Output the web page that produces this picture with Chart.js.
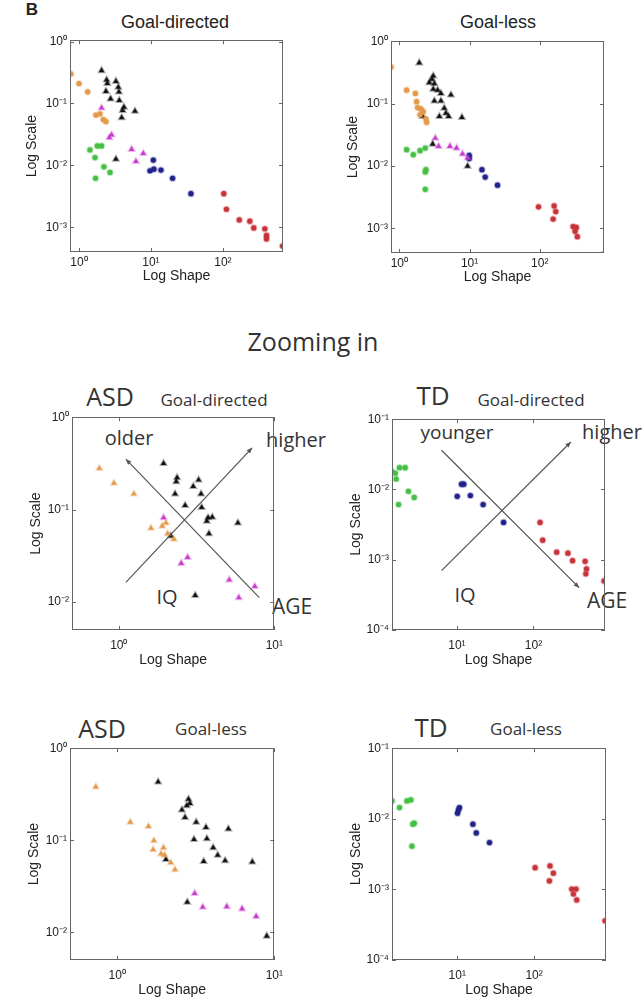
<!DOCTYPE html>
<html>
<head>
<meta charset="utf-8">
<script src="https://cdn.jsdelivr.net/npm/chart.js@4.4.0/dist/chart.umd.min.js"></script>
<style>
body{margin:0;background:#fff;width:643px;height:1003px;position:relative;overflow:hidden}
canvas{position:absolute}
.t{position:absolute;transform:translate(-50%,-50%);white-space:nowrap;line-height:1}
.ax{font-family:'Liberation Sans',Arial,sans-serif;color:#222}
.os{font-family:'Open Sans',sans-serif;color:#333}
</style>
</head>
<body>
<div class="t ax" style="left:32px;top:9px;font-weight:bold;font-size:17px">B</div>
<div class="t ax" style="left:175px;top:22px;font-size:18px">Goal-directed</div>
<div class="t ax" style="left:498px;top:22px;font-size:18px">Goal-less</div>
<div class="t os" style="left:313px;top:341px;font-size:25px">Zooming in</div>
<div class="t os" style="left:110px;top:396px;font-size:25px">ASD</div>
<div class="t os" style="left:214px;top:399px;font-size:17px">Goal-directed</div>
<div class="t os" style="left:433px;top:395px;font-size:26px">TD</div>
<div class="t os" style="left:531px;top:399px;font-size:17px">Goal-directed</div>
<div class="t os" style="left:102px;top:728px;font-size:25px">ASD</div>
<div class="t os" style="left:211px;top:728px;font-size:17px">Goal-less</div>
<div class="t os" style="left:431px;top:727px;font-size:26px">TD</div>
<div class="t os" style="left:526px;top:728px;font-size:17px">Goal-less</div>
<div class="t os" style="left:129px;top:438px;font-size:20px">older</div>
<div class="t os" style="left:296px;top:440px;font-size:20px">higher</div>
<div class="t os" style="left:167px;top:597px;font-size:20px">IQ</div>
<div class="t os" style="left:292px;top:606px;font-size:21px">AGE</div>
<div class="t os" style="left:457px;top:432px;font-size:19px">younger</div>
<div class="t os" style="left:612px;top:432px;font-size:20px">higher</div>
<div class="t os" style="left:465px;top:595px;font-size:20px">IQ</div>
<div class="t os" style="left:607px;top:600px;font-size:21px">AGE</div>
<script>
// tick values and labels
const xTicksWide = [1, 10, 100];
const xLabelsWide = ['10⁰', '10¹', '10²'];
const yTicksWide = [1, 0.1, 0.01, 0.001];
const yLabelsWide = ['10⁰', '10⁻¹', '10⁻²', '10⁻³'];
const xTicksAsd = [1, 10];
const xLabelsAsd = ['10⁰', '10¹'];
const yTicksAsd = [1, 0.1, 0.01];
const yLabelsAsd = ['10⁰', '10⁻¹', '10⁻²'];
const xTicksTd = [10, 100];
const xLabelsTd = ['10¹', '10²'];
const yTicksTd = [0.1, 0.01, 0.001, 0.0001];
const yLabelsTd = ['10⁻¹', '10⁻²', '10⁻³', '10⁻⁴'];

// axis limits
const xRangeGd = [0.75, 685], yRangeGd = [0.0004, 1.05];
const xRangeGl = [0.76, 822], yRangeGl = [0.0004, 1];
const xRangeAsd = [0.5, 10], yRangeAsd = [0.005, 1];
const xRangeTd = [1.42, 860], yRangeTd = [0.0001, 0.1];

// all subjects, goal-directed  [shape, scale]
const gdOrange = [[0.77,0.30],[1.0,0.21],[1.32,0.154],[1.72,0.065],[1.96,0.068],[2.18,0.055],[2.37,0.051]];
const gdBlack = [[2.06,0.34],[2.42,0.24],[2.48,0.21],[2.37,0.157],[3.26,0.228],[3.52,0.183],[3.59,0.154],[2.75,0.119],[3.63,0.112],[4.22,0.087],[4.04,0.077],[3.92,0.059],[6.0,0.075],[3.26,0.0126]];
const gdMagenta = [[2.06,0.085],[2.84,0.031],[2.64,0.028],[5.39,0.0182],[7.83,0.0156],[6.19,0.0116]];
const gdGreen = [[1.42,0.0178],[1.80,0.0206],[2.06,0.0206],[1.67,0.0134],[2.22,0.0095],[2.70,0.0077],[1.70,0.0062]];
const gdBlue = [[10.8,0.0122],[11.0,0.0087],[9.7,0.0082],[13.8,0.0084],[20,0.0062],[36,0.0035]];
const gdRed = [[103,0.0035],[112,0.00196],[169,0.00132],[237,0.00126],[269,0.00098],[383,0.00095],[404,0.00074],[404,0.00065],[674,0.0005]];

// all subjects, goal-less
const glOrange = [[0.76,0.385],[1.27,0.164],[1.69,0.145],[1.76,0.107],[1.82,0.086],[2.03,0.082],[2.19,0.074],[1.97,0.066],[2.39,0.057],[2.45,0.050]];
const glBlack = [[1.92,0.45],[3.04,0.277],[2.91,0.245],[2.67,0.217],[3.15,0.209],[3.04,0.170],[3.51,0.164],[3.91,0.145],[5.43,0.137],[3.15,0.110],[3.91,0.110],[4.36,0.084],[4.61,0.070],[3.71,0.062],[5.03,0.062],[7.78,0.060],[2.15,0.062],[2.98,0.0224],[9.37,0.0099]];
const glMagenta = [[3.25,0.0279],[3.62,0.0206],[5.25,0.0206],[6.53,0.0193],[7.94,0.0155],[9.37,0.0134]];
const glGreen = [[1.27,0.0182],[1.58,0.0151],[1.97,0.0175],[2.34,0.0193],[2.39,0.0087],[2.34,0.0080],[2.34,0.0042]];
const glBlue = [[9.89,0.0148],[9.89,0.0131],[15.0,0.0087],[16.7,0.0066],[25.0,0.0049]];
const glRed = [[96,0.0022],[160,0.00228],[169,0.00185],[155,0.0014],[298,0.00106],[332,0.00103],[318,0.00089],[343,0.00073],[800,0.00038]];

// ASD goal-directed
const asdGdOrange = [[0.75,0.28],[0.93,0.193],[1.25,0.148],[1.61,0.063],[1.90,0.0665],[2.01,0.072],[2.06,0.055],[2.26,0.048]];
const asdGdBlack = [[1.94,0.317],[2.37,0.222],[2.34,0.201],[3.01,0.178],[3.26,0.21],[2.30,0.148],[3.38,0.148],[2.67,0.111],[3.41,0.106],[3.68,0.075],[3.75,0.082],[3.99,0.083],[5.83,0.072],[3.80,0.055],[2.16,0.052],[3.10,0.0118]];
const asdGdMagenta = [[1.94,0.082],[2.77,0.0305],[2.52,0.0263],[5.13,0.0174],[7.49,0.0148],[5.91,0.0112]];
const asdGdAgeArrow = [[8.0,0.0112],[1.11,0.352]];
const asdGdIqArrow = [[1.11,0.0164],[7.2,0.466]];

// TD goal-directed
const tdGdGreen = [[1.42,0.0179],[1.78,0.0204],[2.11,0.0204],[1.57,0.017],[1.61,0.0141],[2.33,0.0094],[2.77,0.0077],[1.73,0.0061]];
const tdGdBlue = [[11.5,0.0119],[12.3,0.0119],[10.1,0.0080],[15.0,0.0082],[22.0,0.0061],[40.7,0.0034]];
const tdGdRed = [[122,0.0034],[132,0.0019],[201,0.00128],[282,0.00124],[324,0.00097],[473,0.00095],[493,0.00074],[483,0.00063],[836,0.0005]];
const tdGdAgeArrow = [[6.3,0.0362],[395,0.0004]];
const tdGdIqArrow = [[6.3,0.0007],[308,0.0474]];

// ASD goal-less
const asdGlOrange = [[0.73,0.38],[1.21,0.157],[1.58,0.141],[1.71,0.099],[1.69,0.079],[1.97,0.083],[1.90,0.071],[2.0,0.069],[2.19,0.057],[2.33,0.048]];
const asdGlBlack = [[1.82,0.43],[2.84,0.28],[2.90,0.252],[2.77,0.238],[2.58,0.214],[2.70,0.177],[3.18,0.157],[3.67,0.138],[5.10,0.133],[3.08,0.102],[3.72,0.104],[4.08,0.083],[4.36,0.069],[3.55,0.059],[4.86,0.060],[7.24,0.058],[2.04,0.062],[2.79,0.0212],[8.95,0.0091]];
const asdGlMagenta = [[3.11,0.0265],[3.50,0.0187],[4.98,0.019],[6.23,0.018],[7.66,0.0149]];

// TD goal-less
const tdGlGreen = [[1.42,0.0179],[1.78,0.0144],[2.22,0.0179],[2.50,0.0185],[2.65,0.0084],[2.77,0.0087],[2.58,0.0041]];
const tdGlBlue = [[10.4,0.0134],[10.7,0.0144],[10.1,0.012],[16.0,0.0084],[17.7,0.0063],[26.3,0.0046]];
const tdGlRed = [[103,0.00203],[161,0.00215],[178,0.0017],[158,0.00132],[308,0.00101],[351,0.00101],[324,0.00086],[358,0.00071],[836,0.00036]];

const colors = {
  orange: '#e39a4a', black: '#111111', magenta: '#c83cd0',
  green: '#44c044', blue: '#22228a', red: '#c8343c'
};

function pts(arr) { return arr.map(p => ({x: p[0], y: p[1]})); }

function group(arr, color, tri) {
  return {
    data: pts(arr),
    pointStyle: tri ? 'triangle' : 'circle',
    pointRadius: tri ? 3.2 : 2.6,
    backgroundColor: color,
    borderColor: color + '55',
    borderWidth: 2
  };
}

// frame, inward ticks and the annotation arrows
const boxPlugin = {
  id: 'box',
  afterDraw(chart, args, opts) {
    const {ctx, chartArea: a, scales: {x, y}} = chart;
    ctx.save();
    ctx.strokeStyle = '#666';
    ctx.lineWidth = 1;
    ctx.beginPath();
    x.ticks.forEach(t => {
      const px = Math.round(x.getPixelForValue(t.value)) + 0.5;
      ctx.moveTo(px, a.bottom); ctx.lineTo(px, a.bottom - 4);
      ctx.moveTo(px, a.top); ctx.lineTo(px, a.top + 4);
    });
    y.ticks.forEach(t => {
      const py = Math.round(y.getPixelForValue(t.value)) + 0.5;
      ctx.moveTo(a.left, py); ctx.lineTo(a.left + 4, py);
      ctx.moveTo(a.right, py); ctx.lineTo(a.right - 4, py);
    });
    ctx.stroke();
    ctx.strokeRect(Math.round(a.left) + 0.5, Math.round(a.top) + 0.5, Math.round(a.width) - 1, Math.round(a.height) - 1);
    (opts.arrows || []).forEach(arr => {
      const x0 = x.getPixelForValue(arr[0][0]), y0 = y.getPixelForValue(arr[0][1]);
      const x1 = x.getPixelForValue(arr[1][0]), y1 = y.getPixelForValue(arr[1][1]);
      ctx.strokeStyle = '#555';
      ctx.lineWidth = 1.2;
      ctx.beginPath(); ctx.moveTo(x0, y0); ctx.lineTo(x1, y1); ctx.stroke();
      const ang = Math.atan2(y1 - y0, x1 - x0);
      ctx.fillStyle = '#555';
      ctx.beginPath();
      ctx.moveTo(x1, y1);
      ctx.lineTo(x1 - 6 * Math.cos(ang - 0.4), y1 - 6 * Math.sin(ang - 0.4));
      ctx.lineTo(x1 - 6 * Math.cos(ang + 0.4), y1 - 6 * Math.sin(ang + 0.4));
      ctx.closePath(); ctx.fill();
    });
    ctx.restore();
  }
};

function panel(box, cfg) {
  const padTop = 8, padRight = 8, yW = 50, xH = 44;
  const cv = document.createElement('canvas');
  cv.width = yW + box.w + padRight;
  cv.height = padTop + box.h + xH;
  cv.style.left = (box.x - yW) + 'px';
  cv.style.top = (box.y - padTop) + 'px';
  document.body.appendChild(cv);
  const tickFont = {family: "'Liberation Sans', Arial, sans-serif", size: 12};
  const titleFont = {family: "'Liberation Sans', Arial, sans-serif", size: 14};
  new Chart(cv, {
    type: 'scatter',
    data: {datasets: cfg.sets},
    plugins: [boxPlugin],
    options: {
      responsive: false,
      animation: false,
      layout: {padding: {top: padTop, right: padRight, left: 0, bottom: 0}},
      plugins: {legend: {display: false}, tooltip: {enabled: false}, box: {arrows: cfg.arrows || []}},
      scales: {
        x: {
          type: 'logarithmic', min: cfg.xr[0], max: cfg.xr[1],
          afterBuildTicks: s => { s.ticks = cfg.xt.map(v => ({value: v})); },
          afterFit: s => { s.height = xH; },
          grid: {display: false, drawTicks: false},
          border: {display: false},
          ticks: {callback: (v, i) => cfg.xl[i], font: tickFont, color: '#222', padding: cfg.xPad, maxRotation: 0, autoSkip: false},
          title: {display: true, text: 'Log Shape', font: titleFont, color: '#222', padding: {top: 0, bottom: cfg.xTitlePad}}
        },
        y: {
          type: 'logarithmic', min: cfg.yr[0], max: cfg.yr[1],
          afterBuildTicks: s => { s.ticks = cfg.yt.map(v => ({value: v})); },
          afterFit: s => { s.width = yW; },
          grid: {display: false, drawTicks: false},
          border: {display: false},
          ticks: {callback: (v, i) => cfg.yl[i], font: tickFont, color: '#222', padding: 3, autoSkip: false},
          title: {display: true, text: 'Log Scale', font: titleFont, color: '#222', padding: {top: cfg.yTitlePad, bottom: 0}}
        }
      }
    }
  });
}

panel({x: 70, y: 38, w: 213, h: 214}, {
  xr: xRangeGd, yr: yRangeGd, xt: xTicksWide, xl: xLabelsWide, yt: yTicksWide, yl: yLabelsWide,
  xPad: 3, xTitlePad: 11, yTitlePad: 4,
  sets: [group(gdOrange, colors.orange, false), group(gdMagenta, colors.magenta, true), group(gdBlack, colors.black, true),
         group(gdGreen, colors.green, false), group(gdBlue, colors.blue, false), group(gdRed, colors.red, false)]
});
panel({x: 391, y: 39, w: 213, h: 214}, {
  xr: xRangeGl, yr: yRangeGl, xt: xTicksWide, xl: xLabelsWide, yt: yTicksWide, yl: yLabelsWide,
  xPad: 3, xTitlePad: 11, yTitlePad: 4,
  sets: [group(glOrange, colors.orange, false), group(glMagenta, colors.magenta, true), group(glBlack, colors.black, true),
         group(glGreen, colors.green, false), group(glBlue, colors.blue, false), group(glRed, colors.red, false)]
});
panel({x: 72, y: 415, w: 211, h: 215}, {
  xr: xRangeAsd, yr: yRangeAsd, xt: xTicksAsd, xl: xLabelsAsd, yt: yTicksAsd, yl: yLabelsAsd,
  xPad: 8, xTitlePad: 5, yTitlePad: 6,
  arrows: [asdGdAgeArrow, asdGdIqArrow],
  sets: [group(asdGdOrange, colors.orange, true), group(asdGdMagenta, colors.magenta, true), group(asdGdBlack, colors.black, true)]
});
panel({x: 392, y: 417, w: 213, h: 213}, {
  xr: xRangeTd, yr: yRangeTd, xt: xTicksTd, xl: xLabelsTd, yt: yTicksTd, yl: yLabelsTd,
  xPad: 8, xTitlePad: 5, yTitlePad: 6,
  arrows: [tdGdAgeArrow, tdGdIqArrow],
  sets: [group(tdGdGreen, colors.green, false), group(tdGdBlue, colors.blue, false), group(tdGdRed, colors.red, false)]
});
panel({x: 70, y: 746, w: 213, h: 214}, {
  xr: xRangeAsd, yr: yRangeAsd, xt: xTicksAsd, xl: xLabelsAsd, yt: yTicksAsd, yl: yLabelsAsd,
  xPad: 8, xTitlePad: 5, yTitlePad: 6,
  sets: [group(asdGlOrange, colors.orange, true), group(asdGlMagenta, colors.magenta, true), group(asdGlBlack, colors.black, true)]
});
panel({x: 392, y: 746, w: 214, h: 214}, {
  xr: xRangeTd, yr: yRangeTd, xt: xTicksTd, xl: xLabelsTd, yt: yTicksTd, yl: yLabelsTd,
  xPad: 8, xTitlePad: 5, yTitlePad: 6,
  sets: [group(tdGlGreen, colors.green, false), group(tdGlBlue, colors.blue, false), group(tdGlRed, colors.red, false)]
});
</script>
</body>
</html>
